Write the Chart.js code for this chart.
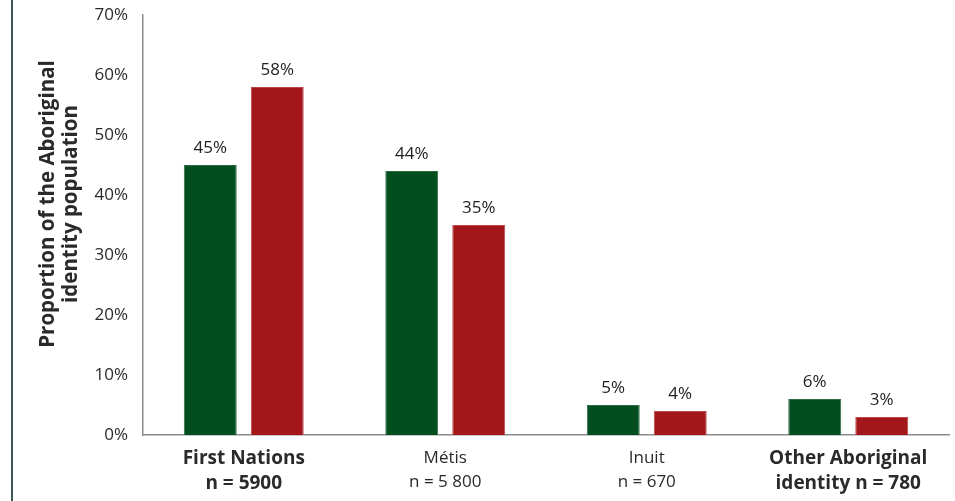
<!DOCTYPE html>
<html>
<head>
<meta charset="utf-8">
<script src="https://cdn.jsdelivr.net/npm/chart.js@4.4.0/dist/chart.umd.min.js"></script>
<style>
  html, body { margin: 0; padding: 0; background: #fff; }
  #wrap { position: relative; width: 955px; height: 501px; }
  #edge { position: absolute; left: 11px; top: 0; width: 2px; height: 501px; background: #3f5656; }
  canvas { position: absolute; left: 0; top: 0; }
</style>
</head>
<body>
<div id="wrap">
  <div id="edge"></div>
  <canvas id="chart" width="955" height="501"></canvas>
</div>
<script>
const categories = [
  ['First Nations', 'n = 5900'],
  ['Métis', 'n = 5 800'],
  ['Inuit', 'n = 670'],
  ['Other Aboriginal', 'identity n = 780']
];
const greenValues = [45, 44, 5, 6];
const redValues = [58, 35, 4, 3];
const yTicks = [0, 10, 20, 30, 40, 50, 60, 70];
const yTitle = ['Proportion of the Aboriginal', 'identity population'];

const FONT = "'Open Sans', 'Noto Sans', sans-serif";

// percent labels above each bar
const valueLabels = {
  id: 'valueLabels',
  afterDatasetsDraw(chart) {
    const ctx = chart.ctx;
    ctx.save();
    ctx.font = '17px ' + FONT;
    ctx.fillStyle = '#222';
    ctx.textAlign = 'center';
    ctx.textBaseline = 'bottom';
    chart.data.datasets.forEach((ds, i) => {
      chart.getDatasetMeta(i).data.forEach((bar, j) => {
        ctx.fillText(ds.data[j] + '%', bar.x, bar.y - 8);
      });
    });
    ctx.restore();
  }
};

// rotated two-line y axis title, sitting a little above the plot centre
const sideTitle = {
  id: 'sideTitle',
  afterDraw(chart) {
    const ctx = chart.ctx;
    ctx.save();
    ctx.font = 'bold 20.5px ' + FONT;
    ctx.fillStyle = '#2a2a2a';
    ctx.textAlign = 'center';
    ctx.textBaseline = 'middle';
    ctx.translate(48, 204);
    ctx.rotate(-Math.PI / 2);
    yTitle.forEach((line, i) => ctx.fillText(line, 0, i * 23));
    ctx.restore();
  }
};

new Chart(document.getElementById('chart').getContext('2d'), {
  type: 'bar',
  data: {
    labels: categories,
    datasets: [
      { data: greenValues, backgroundColor: '#024e1f', borderColor: '#2f6c45', borderWidth: 1,
        categoryPercentage: 0.665, barPercentage: 0.79 },
      { data: redValues, backgroundColor: '#a3171b', borderColor: '#b9474a', borderWidth: 1,
        categoryPercentage: 0.665, barPercentage: 0.79 }
    ]
  },
  options: {
    responsive: false,
    animation: false,
    layout: { padding: { left: 0, right: 6, top: 15, bottom: 0 } },
    plugins: { legend: { display: false }, tooltip: { enabled: false } },
    scales: {
      x: {
        afterFit: s => { s.height = 66; },
        grid: { display: false, drawTicks: false },
        border: { color: '#8c8c8c', width: 1.5 },
        ticks: {
          color: '#2a2a2a',
          padding: 11,
          maxRotation: 0,
          font: c => (c.index === 0 || c.index === 3)
            ? { family: FONT, size: 19, weight: 'bold', lineHeight: 1.32 }
            : { family: FONT, size: 17, lineHeight: 1.4 }
        }
      },
      y: {
        min: 0,
        max: 70,
        afterFit: s => { s.width = 143; s.paddingTop = 0; s.paddingBottom = 0; },
        afterBuildTicks: axis => { axis.ticks = yTicks.map(v => ({ value: v })); },
        grid: { display: false, drawOnChartArea: false, drawTicks: true, tickLength: 5, color: '#8c8c8c' },
        border: { color: '#8c8c8c', width: 1.5 },
        ticks: {
          color: '#2a2a2a',
          padding: 10,
          font: { family: FONT, size: 17 },
          callback: v => v + '%'
        }
      }
    }
  },
  plugins: [valueLabels, sideTitle]
});
</script>
</body>
</html>
